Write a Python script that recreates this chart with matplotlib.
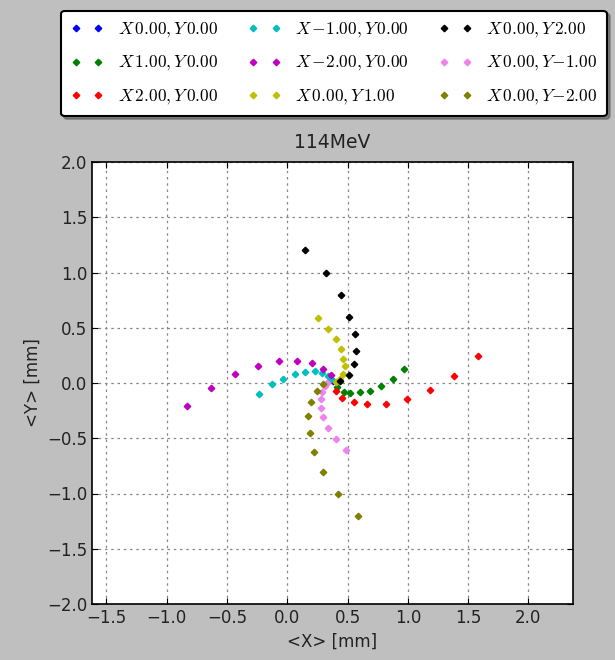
import matplotlib
matplotlib.use("Agg")
import matplotlib.pyplot as plt

plt.rcParams['mathtext.fontset'] = 'cm'

TITLE = "114MeV"

labels = [
    r"$X\,0.00,Y\,0.00$", r"$X\,1.00,Y\,0.00$", r"$X\,2.00,Y\,0.00$",
    r"$X\,{-1.00},Y\,0.00$", r"$X\,{-2.00},Y\,0.00$", r"$X\,0.00,Y\,1.00$",
    r"$X\,0.00,Y\,2.00$", r"$X\,0.00,Y{-1.00}$", r"$X\,0.00,Y{-2.00}$",
]
colors = ['b', 'g', 'r', 'c', 'm', 'y', 'k', 'violet', 'olive']

x_00 = [0.38]
y_00 = [0.02]
x_p1x = [0.41, 0.47, 0.517, 0.60, 0.686, 0.78, 0.875, 0.966]
y_p1x = [-0.04, -0.085, -0.088, -0.084, -0.072, -0.03, 0.036, 0.127]
x_p2x = [0.403, 0.456, 0.55, 0.663, 0.82, 0.99, 1.18, 1.38, 1.58]
y_p2x = [-0.072, -0.133, -0.17, -0.187, -0.187, -0.145, -0.06, 0.065, 0.24]
x_m1x = [0.36, 0.34, 0.29, 0.226, 0.15, 0.068, -0.037, -0.13, -0.234]
y_m1x = [0.04, 0.066, 0.093, 0.109, 0.097, 0.084, 0.04, -0.012, -0.10]
x_m2x = [0.36, 0.295, 0.204, 0.079, -0.068, -0.245, -0.436, -0.633, -0.833]
y_m2x = [0.07, 0.127, 0.18, 0.196, 0.196, 0.154, 0.084, -0.045, -0.21]
x_p1y = [0.40, 0.44, 0.46, 0.475, 0.46, 0.445, 0.40, 0.34, 0.256]
y_p1y = [0.006, 0.036, 0.08, 0.15, 0.22, 0.31, 0.395, 0.49, 0.59]
x_p2y = [0.44, 0.51, 0.55, 0.57, 0.56, 0.51, 0.445, 0.32, 0.15]
y_p2y = [0.015, 0.07, 0.17, 0.29, 0.44, 0.60, 0.80, 1.00, 1.20]
x_m1y = [0.33, 0.31, 0.29, 0.276, 0.276, 0.298, 0.337, 0.40, 0.484]
y_m1y = [0.0, -0.03, -0.079, -0.145, -0.226, -0.31, -0.41, -0.507, -0.61]
x_m2y = [0.30, 0.245, 0.20, 0.173, 0.185, 0.223, 0.298, 0.42, 0.59]
y_m2y = [-0.012, -0.072, -0.17, -0.30, -0.45, -0.62, -0.805, -1.00, -1.20]

xs = [x_00, x_p1x, x_p2x, x_m1x, x_m2x, x_p1y, x_p2y, x_m1y, x_m2y]
ys = [y_00, y_p1x, y_p2x, y_m1x, y_m2x, y_p1y, y_p2y, y_m1y, y_m2y]

fig = plt.figure(figsize=(6.15, 6.6), dpi=100, facecolor='#bfbfbf')
ax = fig.add_axes([92/615, 1 - 604/660, (573-92)/615, (604-162)/660])
ax.set_facecolor('white')

for x, y, c, lab in zip(xs, ys, colors, labels):
    ax.plot(x, y, linestyle='none', marker='D', markersize=3.3,
            color=c, markeredgecolor=c, label=lab)

ax.set_xlim(-1.62, 2.37)
ax.set_ylim(-2.0, 2.0)
ax.set_xticks([-1.5, -1.0, -0.5, 0.0, 0.5, 1.0, 1.5, 2.0])
ax.set_yticks([-2.0, -1.5, -1.0, -0.5, 0.0, 0.5, 1.0, 1.5, 2.0])
ax.grid(True, color='#888888', linestyle=(0, (2, 3)), linewidth=0.9)
ax.tick_params(labelsize=12, labelcolor='#222222', direction='in', length=4,
               top=True, right=True)
for s in ax.spines.values():
    s.set_linewidth(1.2)
ax.set_xlabel("<X> [mm]", fontsize=12, color='#222222')
ax.set_ylabel("<Y> [mm]", fontsize=12, color='#222222')
ax.set_title(TITLE, fontsize=13.5, pad=10, color='#222222')

leg = fig.legend(loc='upper center', bbox_to_anchor=(334/615, 1 - 2/660),
                 ncol=3, numpoints=2, fontsize=12.5, shadow=True, fancybox=True,
                 framealpha=1, edgecolor='black', columnspacing=1.75,
                 handlelength=1.9, borderpad=0.55, labelspacing=0.8)
leg.get_frame().set_linewidth(1.5)

fig.savefig("out.png", dpi=100, facecolor=fig.get_facecolor())
